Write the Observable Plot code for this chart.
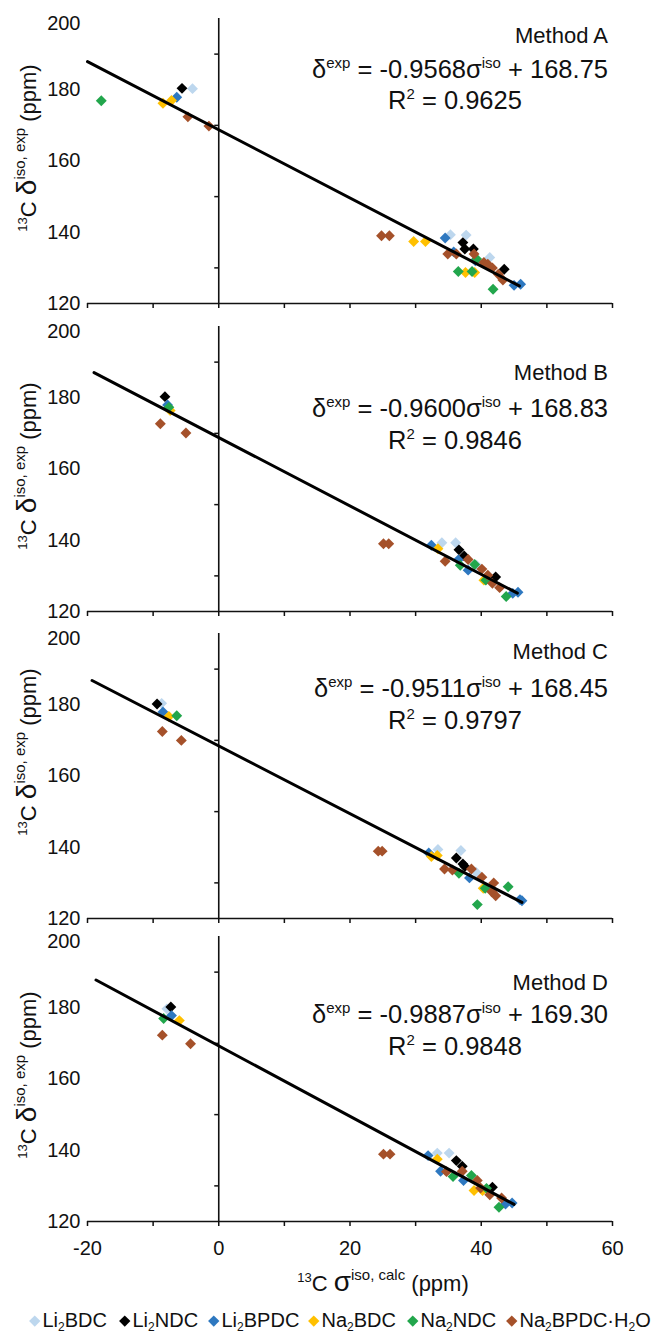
<!DOCTYPE html>
<html><head><meta charset="utf-8">
<script src="https://cdn.jsdelivr.net/npm/d3@7"></script>
<script src="https://cdn.jsdelivr.net/npm/@observablehq/plot@0.6"></script>
<style>
body{margin:0;background:#fff;}
#chart{position:relative;width:656px;height:1334px;font-family:"Liberation Sans",Arial,sans-serif;color:#111;overflow:hidden;}
#chart svg{position:absolute;left:0;}
.leg{position:absolute;top:1308px;font-size:20px;white-space:nowrap;line-height:24px;}
.leg i{display:inline-block;width:7.5px;height:7.5px;transform:rotate(45deg);margin:0 4px 2px 1px;vertical-align:middle;}
.leg sub{font-size:12px;vertical-align:-4px;line-height:0;}
</style></head><body><div id="chart"></div><script>
// ---- data ----
const seriesKeys = ["Li2BDC", "Li2NDC", "Li2BPDC", "Na2BDC", "Na2NDC", "Na2BPDC·H2O"];
const seriesColors = ["#bdd7ee", "#000000", "#2e78c0", "#ffc000", "#22a64c", "#a5512a"];
const methodLabels = ["Method A", "Method B", "Method C", "Method D"];
const slopes = [-0.9568, -0.9600, -0.9511, -0.9887];
const intercepts = [168.75, 168.83, 168.45, 169.30];
const r2Labels = ["0.9625", "0.9846", "0.9797", "0.9848"];
const lineStart = [-20, -19, -19.3, -18.7];
const lineEnd = [45.8, 45.5, 46.2, 45.0];
const xTickValues = [-20, -10, 0, 10, 20, 30, 40, 50, 60];
const yLabelTicks = [120, 140, 160, 180];
const yTopLabel = [200];
const yMinorTicks = [130, 150, 170, 190];

// [series, sigma_calc, delta_exp]
const methodA = [
  ["Li2BDC", -4.0, 180.3], ["Li2BDC", 35.3, 139.3], ["Li2BDC", 37.7, 139.2], ["Li2BDC", 41.3, 132.9],
  ["Li2NDC", -5.6, 180.4], ["Li2NDC", 37.2, 137.1], ["Li2NDC", 37.5, 135.3], ["Li2NDC", 38.8, 135.3], ["Li2NDC", 43.5, 129.6],
  ["Li2BPDC", -6.4, 177.9], ["Li2BPDC", 34.5, 138.4], ["Li2BPDC", 35.8, 134.5], ["Li2BPDC", 39.1, 132.0], ["Li2BPDC", 45.0, 125.1], ["Li2BPDC", 46.0, 125.4],
  ["Na2BDC", -8.5, 176.2], ["Na2BDC", -7.2, 177.0], ["Na2BDC", 29.7, 137.4], ["Na2BDC", 31.5, 137.4], ["Na2BDC", 37.6, 128.7], ["Na2BDC", 39.0, 128.7],
  ["Na2NDC", -17.9, 176.9], ["Na2NDC", 36.5, 129.0], ["Na2NDC", 38.6, 129.0], ["Na2NDC", 39.3, 132.5], ["Na2NDC", 41.8, 124.0],
  ["Na2BPDC·H2O", -4.7, 172.4], ["Na2BPDC·H2O", -1.5, 169.8], ["Na2BPDC·H2O", 24.8, 139.0], ["Na2BPDC·H2O", 26.0, 139.0],
  ["Na2BPDC·H2O", 34.9, 133.9], ["Na2BPDC·H2O", 36.2, 133.9], ["Na2BPDC·H2O", 38.9, 133.9], ["Na2BPDC·H2O", 40.4, 131.5],
  ["Na2BPDC·H2O", 41.0, 131.0], ["Na2BPDC·H2O", 41.7, 130.0], ["Na2BPDC·H2O", 42.6, 128.2], ["Na2BPDC·H2O", 43.3, 126.6]
];
const methodB = [
  ["Li2BDC", 34.0, 139.3], ["Li2BDC", 36.1, 139.3], ["Li2BDC", 39.3, 133.0],
  ["Li2NDC", -8.2, 180.3], ["Li2NDC", 36.6, 137.3], ["Li2NDC", 37.4, 135.6], ["Li2NDC", 42.2, 129.7],
  ["Li2BPDC", -7.8, 178.0], ["Li2BPDC", 32.4, 138.6], ["Li2BPDC", 36.5, 134.5], ["Li2BPDC", 38.0, 131.6], ["Li2BPDC", 44.8, 125.1], ["Li2BPDC", 45.6, 125.4],
  ["Na2BDC", -7.4, 176.4], ["Na2BDC", 33.4, 137.6], ["Na2BDC", 40.4, 128.8],
  ["Na2NDC", -7.6, 177.3], ["Na2NDC", 36.8, 133.0], ["Na2NDC", 39.0, 133.2], ["Na2NDC", 40.7, 128.8], ["Na2NDC", 43.8, 124.2],
  ["Na2BPDC·H2O", -8.9, 172.7], ["Na2BPDC·H2O", -5.0, 170.1], ["Na2BPDC·H2O", 25.1, 139.0], ["Na2BPDC·H2O", 25.9, 139.0],
  ["Na2BPDC·H2O", 34.5, 134.1], ["Na2BPDC·H2O", 38.0, 134.6], ["Na2BPDC·H2O", 40.1, 131.9], ["Na2BPDC·H2O", 41.0, 130.2],
  ["Na2BPDC·H2O", 41.7, 127.9], ["Na2BPDC·H2O", 42.8, 126.7]
];
const methodC = [
  ["Li2BDC", -8.7, 180.4], ["Li2BDC", 33.4, 139.4], ["Li2BDC", 36.9, 139.1], ["Li2BDC", 39.2, 133.0],
  ["Li2NDC", -9.4, 180.2], ["Li2NDC", 36.2, 137.0], ["Li2NDC", 37.2, 135.3], ["Li2NDC", 37.5, 134.6],
  ["Li2BPDC", -8.5, 178.0], ["Li2BPDC", 32.0, 138.4], ["Li2BPDC", 38.2, 131.4], ["Li2BPDC", 45.9, 125.3], ["Li2BPDC", 46.2, 125.0],
  ["Na2BDC", -7.6, 176.7], ["Na2BDC", 32.4, 137.4], ["Na2BDC", 33.3, 137.7], ["Na2BDC", 40.3, 128.5],
  ["Na2NDC", -6.4, 176.9], ["Na2NDC", 36.6, 132.7], ["Na2NDC", 40.6, 128.5], ["Na2NDC", 44.1, 128.9], ["Na2NDC", 39.4, 123.9],
  ["Na2BPDC·H2O", -8.6, 172.5], ["Na2BPDC·H2O", -5.7, 170.0], ["Na2BPDC·H2O", 24.3, 138.9], ["Na2BPDC·H2O", 24.9, 138.9],
  ["Na2BPDC·H2O", 34.4, 133.9], ["Na2BPDC·H2O", 35.6, 133.6], ["Na2BPDC·H2O", 38.5, 133.9], ["Na2BPDC·H2O", 40.1, 131.6],
  ["Na2BPDC·H2O", 41.9, 130.0], ["Na2BPDC·H2O", 41.6, 127.5], ["Na2BPDC·H2O", 42.2, 126.4]
];
const methodD = [
  ["Li2BDC", -7.9, 179.7], ["Li2BDC", 33.3, 139.2], ["Li2BDC", 35.1, 139.2],
  ["Li2NDC", -7.3, 180.2], ["Li2NDC", 36.2, 137.1], ["Li2NDC", 37.1, 135.5], ["Li2NDC", 41.7, 129.6],
  ["Li2BPDC", -7.2, 177.8], ["Li2BPDC", 31.9, 138.5], ["Li2BPDC", 33.8, 134.1], ["Li2BPDC", 37.3, 131.5], ["Li2BPDC", 43.7, 124.9], ["Li2BPDC", 44.7, 125.2],
  ["Na2BDC", -6.0, 176.4], ["Na2BDC", 33.3, 137.5], ["Na2BDC", 38.9, 128.7], ["Na2BDC", 40.2, 128.7],
  ["Na2NDC", -8.4, 177.0], ["Na2NDC", 35.7, 132.6], ["Na2NDC", 38.5, 132.9], ["Na2NDC", 40.8, 129.3], ["Na2NDC", 42.7, 124.0],
  ["Na2BPDC·H2O", -8.6, 172.3], ["Na2BPDC·H2O", -4.3, 169.9], ["Na2BPDC·H2O", 25.1, 138.9], ["Na2BPDC·H2O", 26.1, 138.9],
  ["Na2BPDC·H2O", 34.7, 134.0], ["Na2BPDC·H2O", 37.1, 134.1], ["Na2BPDC·H2O", 39.4, 131.5], ["Na2BPDC·H2O", 39.9, 129.4],
  ["Na2BPDC·H2O", 41.3, 127.5], ["Na2BPDC·H2O", 43.1, 126.6]
];
const panels = [methodA, methodB, methodC, methodD];

// ---- layout ----
const FONT = "'Liberation Sans', Arial, sans-serif";
const panelTops = [18, 326, 633, 936];
const plotH = 285;
const methodBase = [25, 54, 26, 54];
const eqBase = [60, 91, 64, 87];
const r2Base = [91, 123, 96, 119];
const yTitleC = [130, 140, 119, 139];
const chart = document.getElementById("chart");

panels.forEach((rows, i) => {
  const isLast = i === 3;
  const mt = 20, mb = isLast ? 85 : 12;
  const H = mt + plotH + mb;
  const svgTop = panelTops[i] - mt;
  const lineData = [lineStart[i], lineEnd[i]].map(s => ({s, d: slopes[i] * s + intercepts[i]}));
  const svg = Plot.plot({
    width: 656, height: H,
    marginLeft: 87, marginRight: 44, marginTop: mt, marginBottom: mb,
    style: `font-family:${FONT};font-size:20px;color:#111;background:transparent;overflow:visible;`,
    x: {domain: [-20, 60]},
    y: {domain: [120, 200]},
    color: {domain: seriesKeys, range: seriesColors},
    marks: [
      Plot.axisY(yLabelTicks, {anchor: "left", tickSize: 0, tickPadding: 7, fontSize: 20, label: null}),
      Plot.axisY(yTopLabel, {anchor: "left", tickSize: 0, tickPadding: 7, fontSize: 20, dy: 5, label: null}),
      Plot.axisX(xTickValues, {anchor: "bottom", tickSize: 5, tickPadding: 14, fontSize: 20, strokeWidth: 1.5, label: null,
        tickFormat: d => (isLast && d % 20 === 0) ? String(d) : ""}),
      Plot.ruleY([120], {stroke: "#111", strokeWidth: 1.6}),
      Plot.ruleX([0], {stroke: "#111", strokeWidth: 1.6}),
      Plot.ruleY(yMinorTicks, {x1: 0, x2: 0, insetLeft: -4, stroke: "#111", strokeWidth: 1.5}),
      Plot.dot(rows, {x: d => d[1], y: d => d[2], fill: d => d[0], symbol: "diamond2", r: 4.9}),
      Plot.line(lineData, {x: "s", y: "d", stroke: "#000", strokeWidth: 3})
    ]
  });
  svg.style.top = svgTop + "px";
  chart.appendChild(svg);

  const g = d3.select(svg).append("g").attr("font-family", FONT).attr("fill", "#111").style("white-space", "pre");
  g.append("text").attr("x", 608).attr("y", mt + methodBase[i]).attr("text-anchor", "end")
    .attr("font-size", 22).text(methodLabels[i]);
  const eq = g.append("text").attr("x", 608).attr("y", mt + eqBase[i]).attr("text-anchor", "end").attr("font-size", 25.5);
  eq.append("tspan").text("δ");
  eq.append("tspan").attr("font-size", 15).attr("dy", -10).text("exp");
  eq.append("tspan").attr("dy", 10).text(` = ${slopes[i].toFixed(4)}σ`);
  eq.append("tspan").attr("font-size", 15).attr("dy", -10).text("iso");
  eq.append("tspan").attr("dy", 10).text(` + ${intercepts[i].toFixed(2)}`);
  const r2 = g.append("text").attr("x", 455).attr("y", mt + r2Base[i]).attr("text-anchor", "middle").attr("font-size", 25.5);
  r2.append("tspan").text("R");
  r2.append("tspan").attr("font-size", 15).attr("dy", -10).text("2");
  r2.append("tspan").attr("dy", 10).text(` = ${r2Labels[i]}`);

  const yt = g.append("text").attr("transform", `translate(36,${mt + yTitleC[i]}) rotate(-90)`)
    .attr("text-anchor", "middle").attr("font-size", 22);
  yt.append("tspan").attr("font-size", 13).attr("dy", -9).text("13");
  yt.append("tspan").attr("dy", 9).text("C ");
  yt.append("tspan").attr("font-size", 28).text("δ");
  yt.append("tspan").attr("font-size", 15).attr("dy", -11).text("iso, exp");
  yt.append("tspan").attr("dy", 11).text(" (ppm)");

  if (isLast) {
    const xt = g.append("text").attr("x", 383).attr("y", 1291 - svgTop).attr("text-anchor", "middle").attr("font-size", 22);
    xt.append("tspan").attr("font-size", 13).attr("dy", -9).text("13");
    xt.append("tspan").attr("dy", 9).text("C ");
    xt.append("tspan").attr("font-size", 28).text("σ");
    xt.append("tspan").attr("font-size", 15).attr("dy", -11).text("iso, calc");
    xt.append("tspan").attr("dy", 11).text(" (ppm)");
  }
});

// ---- legend ----
const legendLeft = [30, 120, 209, 309, 408, 507];
const legendHtml = k => k.replace(/2/g, "<sub>2</sub>");
seriesKeys.forEach((k, i) => {
  const d = document.createElement("div");
  d.className = "leg";
  d.style.left = legendLeft[i] + "px";
  d.innerHTML = `<i style="background:${seriesColors[i]}"></i>${legendHtml(k)}`;
  chart.appendChild(d);
});
</script></body></html>
